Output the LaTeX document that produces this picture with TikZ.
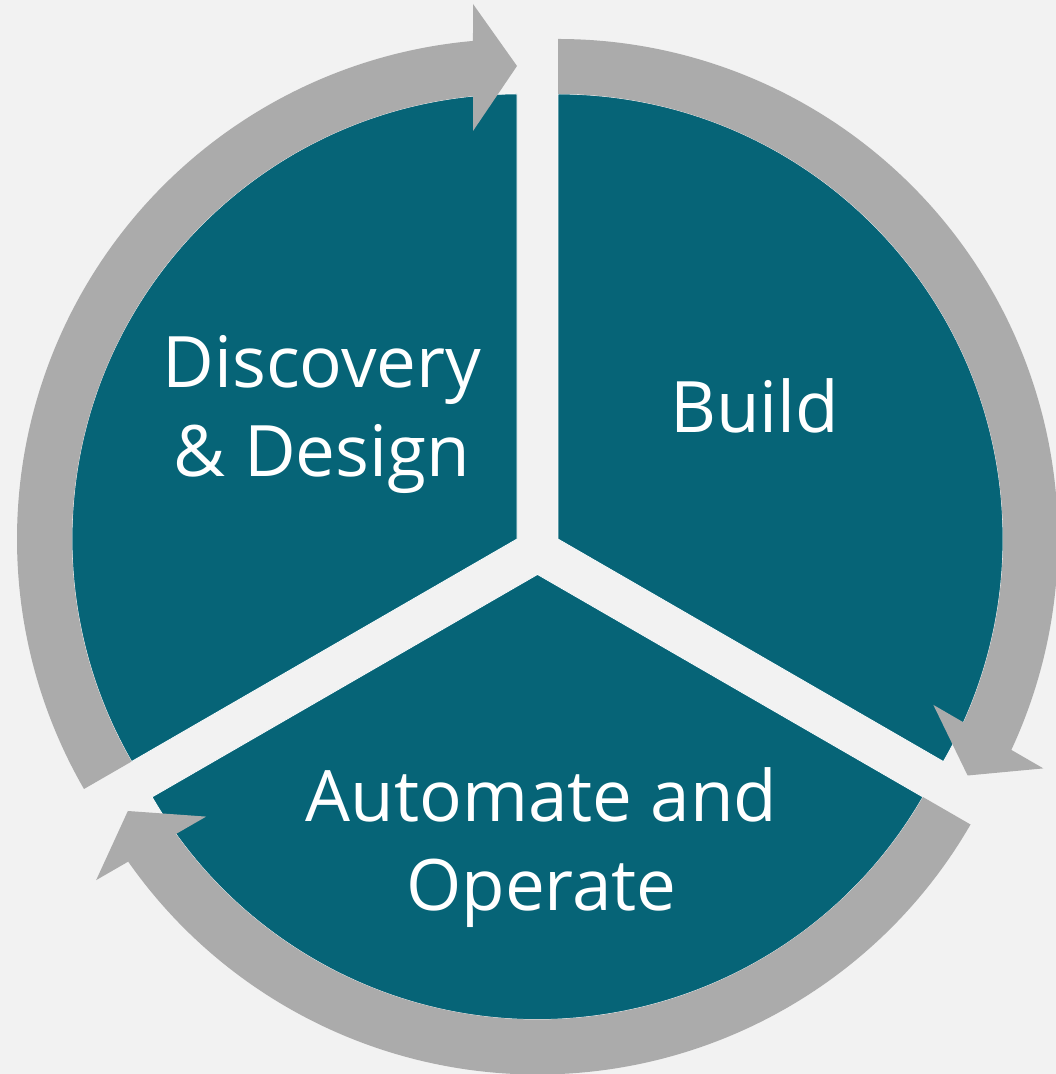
\documentclass[tikz,border=0pt]{standalone}
\usepackage{fontspec}
\setmainfont{Open Sans}
\definecolor{bgcol}{RGB}{242,242,242}
\definecolor{sectorteal}{RGB}{6,100,119}
\definecolor{arrowgray}{RGB}{171,171,171}
\tikzset{
  sector/.style={fill=sectorteal, draw=white, line width=0.7pt, line join=miter},
  band/.style={fill=arrowgray},
  label/.style={text=white, font=\fontsize{71}{89}\selectfont, align=center, anchor=base, inner sep=0pt},
  cyclearrow/.pic={
    \fill[band] (210:500) arc[start angle=210,end angle=95.05,radius=500]
      -- (-44,535) -- (0,473) -- (-44,408) -- (95.67:445)
      arc[start angle=95.67,end angle=210,radius=445] -- cycle;
  }
}
\begin{document}
\begin{tikzpicture}[x=1pt,y=1pt]
\fill[bgcol] (0,0) rectangle (1056,1074);
\useasboundingbox (0,0) rectangle (1056,1074);

\coordinate (VL) at (517,535);
\coordinate (VR) at (558,535);
\coordinate (VB) at (537.5,499.5);

% sectors
\path[sector, shift={(VL)}] (0,0) -- (90:445) arc[start angle=90,end angle=210,radius=445] -- cycle;
\path[sector, shift={(VR)}] (0,0) -- (90:445) arc[start angle=90,end angle=-30,radius=445] -- cycle;
\path[sector, shift={(VB)}] (0,0) -- (-30:445) arc[start angle=-30,end angle=-150,radius=445] -- cycle;

% circular arrows
\pic at (VL) {cyclearrow};
\pic[rotate=-120] at (VR) {cyclearrow};
\pic[rotate=-240] at (VB) {cyclearrow};

% labels (base anchor = baseline of last line)
\node[label] (discovery) at (322,597.5) {Discovery\\\& Design};
\node[label] (build) at (754.5,641) {Build};
\node[label] (automate) at (541.5,163.5) {Automate and\\Operate};
\end{tikzpicture}
\end{document}
